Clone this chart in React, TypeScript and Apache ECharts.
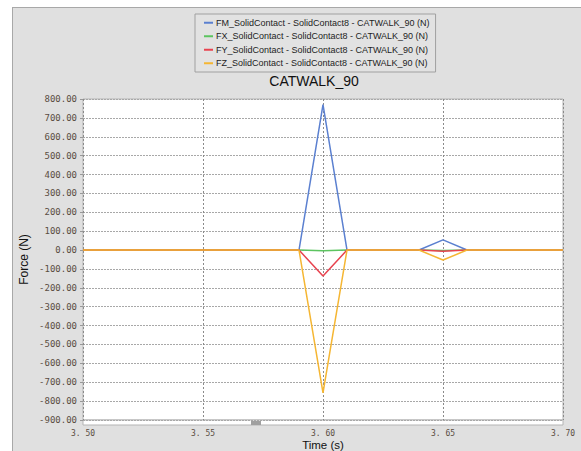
import React, { useEffect, useRef } from "react";
import * as echarts from "echarts";

const times = [3.5, 3.51, 3.52, 3.53, 3.54, 3.55, 3.56, 3.57, 3.58, 3.59, 3.6, 3.61, 3.62, 3.63, 3.64, 3.65, 3.66, 3.67, 3.68, 3.69, 3.7];
const fm = [0, 0, 0, 0, 0, 0, 0, 0, 0, 0, 770, 0, 0, 0, 0, 54, 0, 0, 0, 0, 0];
const fx = [0, 0, 0, 0, 0, 0, 0, 0, 0, 0, -4, 0, 0, 0, 0, -2, 0, 0, 0, 0, 0];
const fy = [0, 0, 0, 0, 0, 0, 0, 0, 0, 0, -138, 0, 0, 0, 0, -6, 0, 0, 0, 0, 0];
const fz = [0, 0, 0, 0, 0, 0, 0, 0, 0, 0, -757, 0, 0, 0, 0, -53, 0, 0, 0, 0, 0];

const seriesNames = [
  "FM_SolidContact - SolidContact8 - CATWALK_90 (N)",
  "FX_SolidContact - SolidContact8 - CATWALK_90 (N)",
  "FY_SolidContact - SolidContact8 - CATWALK_90 (N)",
  "FZ_SolidContact - SolidContact8 - CATWALK_90 (N)",
];
const seriesValues = [fm, fx, fy, fz];
const colors = ["#5b80d0", "#5cc460", "#e8434f", "#f5b633"];
const title = "CATWALK_90";
const xName = "Time (s)";
const yName = "Force (N)";

export default function App() {
  const ref = useRef<HTMLDivElement>(null);
  useEffect(() => {
    if (!ref.current) return;
    const chart = echarts.init(ref.current, null, { renderer: "svg" });
    const plotL = 83, plotR = 563, plotB = 420;
    chart.setOption({
      animation: false,
      color: colors,
      title: {
        text: title,
        left: 309,
        top: 69,
        textAlign: "center",
        textStyle: { fontFamily: "Liberation Sans Narrow, Liberation Sans, Arial", fontSize: 14, fontWeight: "normal", color: "#111" },
      },
      legend: {
        orient: "vertical",
        left: 195,
        top: 14,
        width: 243,
        backgroundColor: "#e2e2e2",
        borderColor: "#a0a0a0",
        borderWidth: 1,
        padding: [3, 6, 3, 9],
        itemGap: 2,
        itemWidth: 9,
        itemHeight: 2,
        icon: "rect",
        textStyle: { fontFamily: "Liberation Sans, Arial", fontSize: 9, color: "#222", lineHeight: 11.5, padding: [0, 0, 0, -2] },
        data: seriesNames,
      },
      grid: {
        left: plotL,
        right: 581 - plotR,
        top: 99,
        bottom: 451 - plotB,
        outerBoundsMode: "none",
        containLabel: false,
        show: true,
        backgroundColor: "#ffffff",
        borderColor: "#b4b4b4",
        borderWidth: 1,
      },
      xAxis: {
        type: "value",
        min: 3.5,
        max: 3.7,
        interval: 0.05,
        name: xName,
        nameLocation: "middle",
        nameGap: 19,
        nameMoveOverlap: false,
        nameTextStyle: { fontFamily: "Liberation Sans, Arial", fontSize: 11.5, color: "#111", lineHeight: 12 },
        axisLine: { show: false },
        axisTick: { show: false },
        axisLabel: {
          fontFamily: "DejaVu Sans Mono, monospace",
          fontSize: 8,
          color: "#5a4d42",
          margin: 9,
          lineHeight: 9,
          formatter: (v: number) => v.toFixed(2).replace(".", ". "),
        },
        splitLine: { show: true, lineStyle: { color: "#8a8a8a", type: [2, 2], width: 1 } },
      },
      yAxis: {
        type: "value",
        min: -900,
        max: 800,
        interval: 100,
        name: yName,
        nameLocation: "middle",
        nameGap: 53,
        nameMoveOverlap: false,
        nameTextStyle: { fontFamily: "Liberation Sans, Arial", fontSize: 12, color: "#111" },
        axisLine: { show: false },
        axisTick: { show: true, length: 3, lineStyle: { color: "#999" } },
        axisLabel: {
          fontFamily: "DejaVu Sans Mono, monospace",
          fontSize: 9,
          color: "#5a4d42",
          margin: 6,
          formatter: (v: number) => v.toFixed(2),
        },
        splitLine: { show: true, lineStyle: { color: "#a8a8a8", type: [2, 1], width: 1 } },
      },
      graphic: [
        {
          type: "rect",
          shape: { x: plotL, y: plotB, width: plotR - plotL, height: 5 },
          style: { fill: "#ffffff", stroke: "#b4b4b4", lineWidth: 1 },
          silent: true,
        },
        {
          type: "rect",
          shape: { x: 251, y: plotB + 1, width: 10, height: 4 },
          style: { fill: "#a0a0a0" },
          silent: true,
        },
      ],
      series: seriesNames.map((name, i) => ({
        name,
        type: "line",
        symbol: "none",
        data: times.map((t, j) => [t, seriesValues[i][j]]),
        lineStyle: { width: 1.5, color: colors[i] },
        itemStyle: { color: colors[i] },
        z: 2 + i,
      })),
    });
    return () => chart.dispose();
  }, []);
  return (
    <div style={{ position: "fixed", left: 0, top: 0, width: 581, height: 451, background: "#ffffff" }}>
      <div
        style={{
          position: "absolute",
          left: 12,
          top: 7,
          width: 581 - 12,
          height: 451 - 7,
          background: "#e0e0e0",
          borderLeft: "1px solid #a8a8a8",
          borderTop: "1px solid #a8a8a8",
          boxSizing: "border-box",
        }}
      />
      <div ref={ref} style={{ position: "absolute", left: 0, top: 0, width: 581, height: 451 }} />
    </div>
  );
}
